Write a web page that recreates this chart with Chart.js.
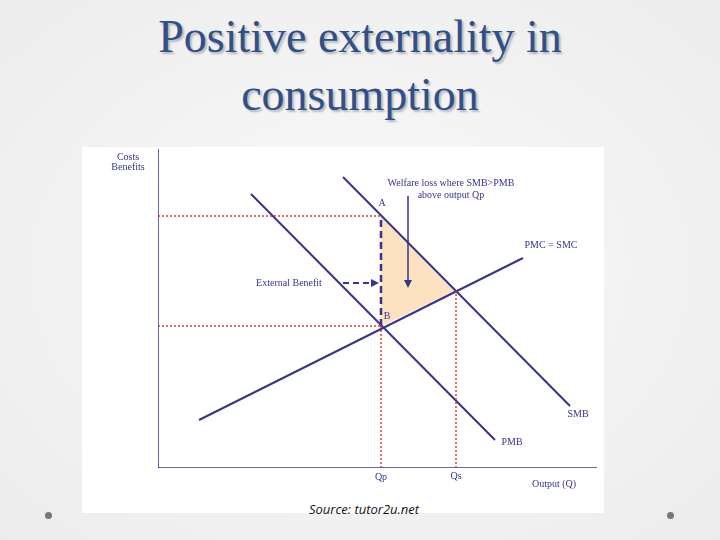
<!DOCTYPE html>
<html><head><meta charset="utf-8">
<script src="https://cdn.jsdelivr.net/npm/chart.js@4/dist/chart.umd.min.js"></script>
<style>
html,body{margin:0;padding:0;width:720px;height:540px;overflow:hidden;background:radial-gradient(ellipse at center,#fafafa 0%,#ececec 100%);}
#title{position:absolute;left:0;top:8px;width:720px;text-align:center;font-family:"Liberation Serif","DejaVu Serif",serif;font-size:46px;line-height:58px;color:#30508a;text-shadow:2px 2px 2px rgba(0,0,0,0.25);}
#panel{position:absolute;left:82px;top:147px;width:522px;height:366px;background:#fff;}
#src{position:absolute;left:0;top:500px;width:728px;text-align:center;font-family:"Open Sans",sans-serif;font-style:italic;font-size:13px;color:#111;}
canvas{position:absolute;left:0;top:0;}
.dot{position:absolute;width:7px;height:7px;border-radius:50%;background:#777;top:512px;}
</style></head><body>
<div id="panel"></div>
<div id="title">Positive externality in<br>consumption</div>
<div id="src">Source: tutor2u.net</div>
<div class="dot" style="left:45px"></div><div class="dot" style="left:667px"></div>
<canvas id="c" width="720" height="540"></canvas>
<script>
// data in chart units
const pmb = [{x:93,y:274},{x:337,y:28}];
const smb = [{x:185,y:291},{x:412,y:62}];
const pmc = [{x:41,y:48},{x:365,y:210}];
const Qp = 223, Qs = 298, yA = 252, yB = 142, yE = 177;
const yAxisLine = [{x:0,y:0},{x:0,y:319}];
const xAxisLine = [{x:0,y:0},{x:439,y:0}];
const triangle = [{x:Qp,y:yA},{x:Qs,y:yE},{x:Qp,y:yB}];
const extArrow = [{x:185,y:185},{x:218,y:185}];
const welfArrow = [{x:250,y:272},{x:250,y:183}];
const labels = [
 {t:"Costs",x:-30,y:311},{t:"Benefits",x:-30,y:301},
 {t:"Welfare loss where SMB>PMB",x:293,y:285},{t:"above output Qp",x:293,y:273},
 {t:"PMC = SMC",x:393,y:223},{t:"SMB",x:420,y:54},{t:"PMB",x:354,y:26},
 {t:"Qp",x:Qp,y:-9},{t:"Qs",x:Qs,y:-8},{t:"Output (Q)",x:396,y:-16},
 {t:"External Benefit",x:131,y:185},{t:"A",x:224,y:265},{t:"B",x:229,y:152}
];
const navy='#35358c', red='#e03a3a';
const L=(data,o)=>Object.assign({data,borderColor:navy,borderWidth:2,pointRadius:0,showLine:true,fill:false,tension:0},o||{});
const ds=[
 L([{x:0,y:yA},{x:Qp,y:yA}],{borderColor:red,borderWidth:1.5,borderDash:[2,2]}),
 L([{x:0,y:yB},{x:Qp,y:yB}],{borderColor:red,borderWidth:1.5,borderDash:[2,2]}),
 L([{x:Qp,y:0},{x:Qp,y:yB}],{borderColor:red,borderWidth:1.5,borderDash:[2,2]}),
 L([{x:Qs,y:0},{x:Qs,y:yE}],{borderColor:red,borderWidth:1.5,borderDash:[2,2]}),
 L([{x:Qp,y:yB},{x:Qp,y:yA}],{borderWidth:2.5,borderDash:[7,4]}),
 L(pmb),L(smb),L(pmc),
 L(yAxisLine,{borderWidth:1.5}),L(xAxisLine,{borderWidth:1.5}),
 L(extArrow,{borderDash:[6,4]}),L(welfArrow,{borderWidth:1.5})
];
const deco={id:'deco',
 beforeDatasetsDraw(ch){
  const c=ch.ctx,xs=ch.scales.x,ys=ch.scales.y;
  c.save();c.fillStyle='#fde2c2';c.beginPath();
  triangle.forEach((p,i)=>{const px=xs.getPixelForValue(p.x),py=ys.getPixelForValue(p.y);i?c.lineTo(px,py):c.moveTo(px,py);});
  c.closePath();c.fill();c.restore();},
 afterDatasetsDraw(ch){
 const c=ch.ctx,xs=ch.scales.x,ys=ch.scales.y,X=v=>xs.getPixelForValue(v),Y=v=>ys.getPixelForValue(v);
 c.save();c.fillStyle=navy;
 const head=(x,y,dx,dy)=>{c.beginPath();c.moveTo(x,y);c.lineTo(x-dx*8-dy*4,y-dy*8+dx*4);c.lineTo(x-dx*8+dy*4,y-dy*8-dx*4);c.closePath();c.fill();};
 head(X(extArrow[1].x)+3,Y(extArrow[1].y),1,0);
 head(X(welfArrow[1].x),Y(welfArrow[1].y)+3,0,1);
 c.font='10px "Liberation Serif",serif';c.textAlign='center';c.textBaseline='middle';
 labels.forEach(l=>c.fillText(l.t,X(l.x),Y(l.y)));
 c.restore();}};
new Chart(document.getElementById('c'),{type:'scatter',data:{datasets:ds},
 options:{responsive:false,animation:false,layout:{padding:{left:158,right:120,top:148,bottom:72}},
 plugins:{legend:{display:false},tooltip:{enabled:false}},
 scales:{x:{type:'linear',min:0,max:442,display:false},y:{type:'linear',min:0,max:320,display:false}}},
 plugins:[deco]});
</script></body></html>
